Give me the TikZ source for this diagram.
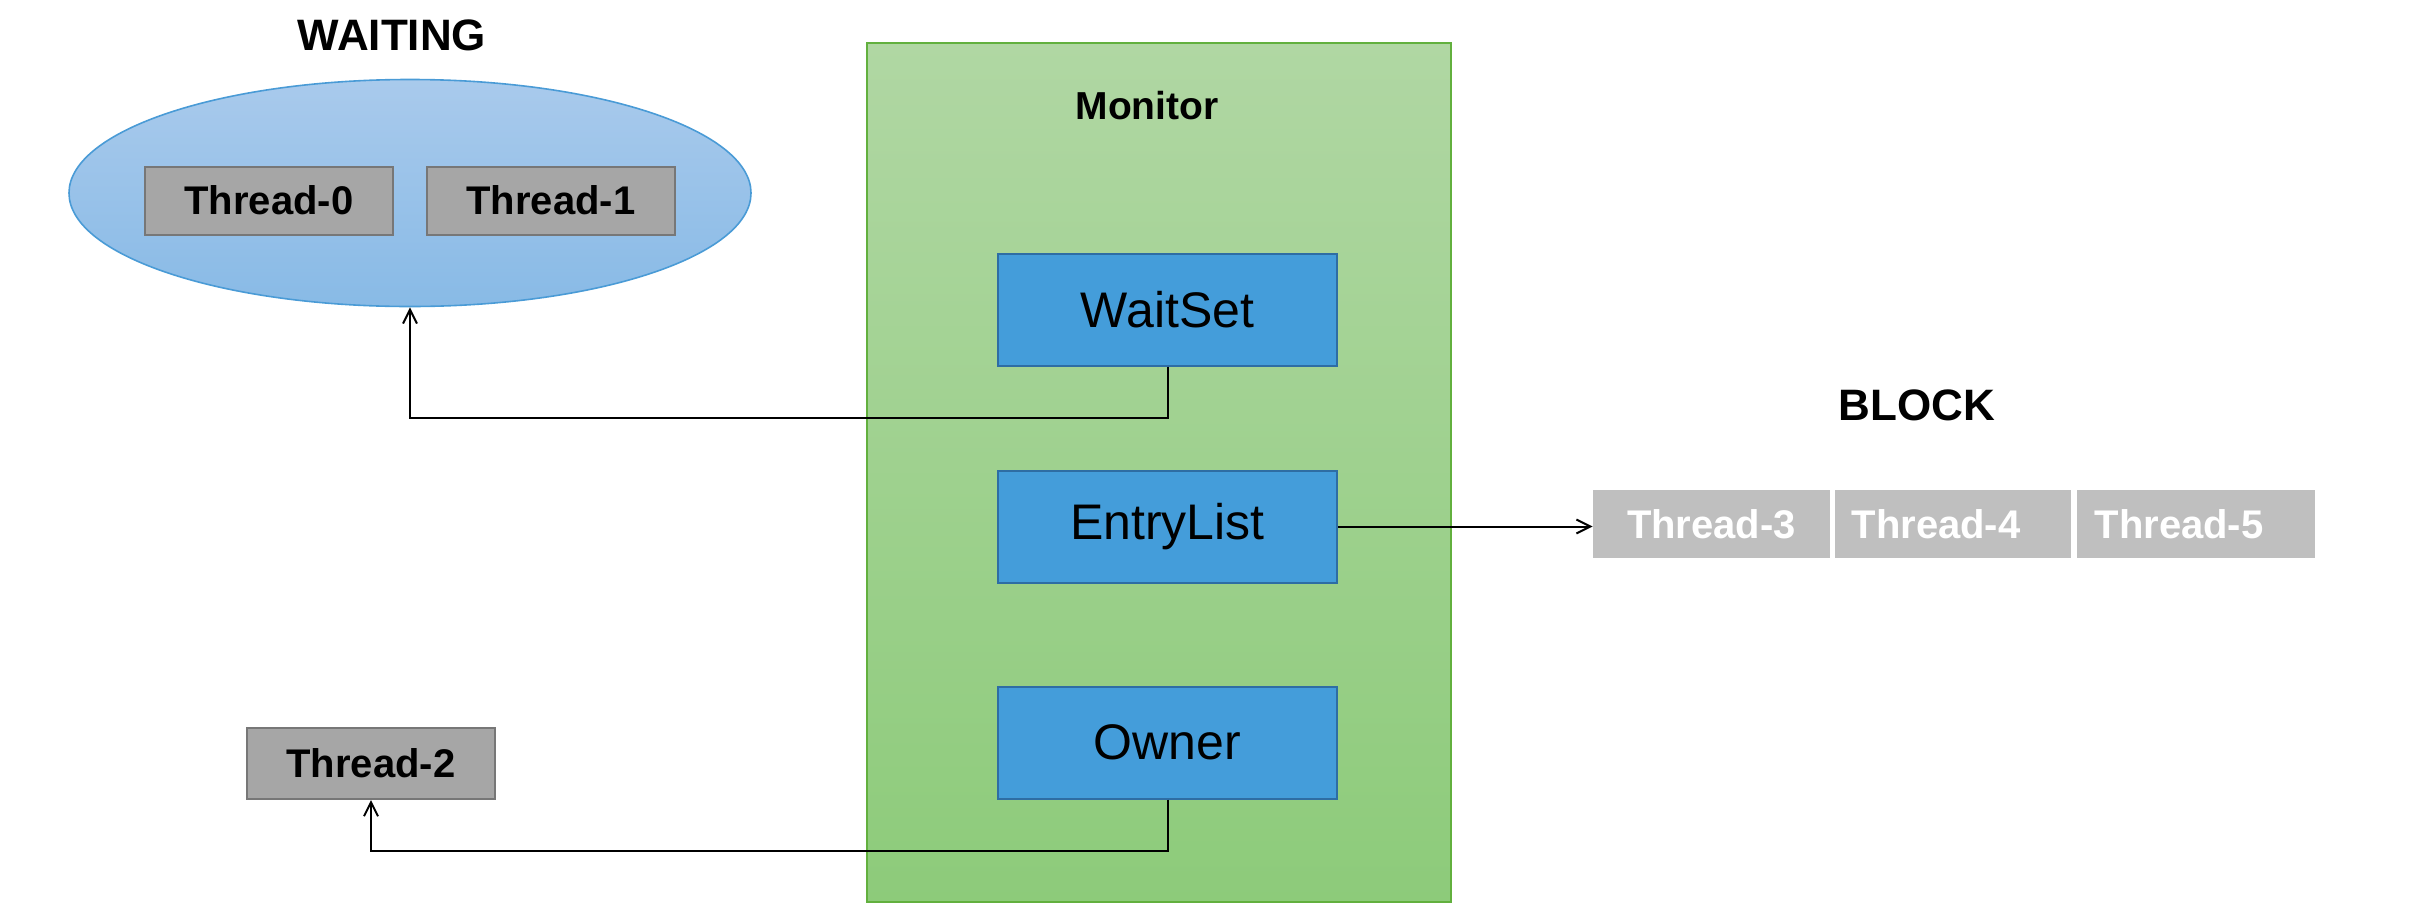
\documentclass[tikz,border=0pt]{standalone}
\usepackage{fontspec}
\setmainfont{Liberation Sans}
\usetikzlibrary{shapes.geometric,arrows.meta}
\definecolor{grnTop}{HTML}{B0D7A3}
\definecolor{grnBot}{HTML}{8DCB7A}
\definecolor{grnLine}{HTML}{62B03E}
\definecolor{bluTop}{HTML}{A9CAEC}
\definecolor{bluBot}{HTML}{88BAE6}
\definecolor{bluLine}{HTML}{4A9BD6}
\definecolor{boxFill}{HTML}{449DDA}
\definecolor{boxLine}{HTML}{2E6DA4}
\definecolor{thrFill}{HTML}{A6A6A6}
\definecolor{thrLine}{HTML}{777777}
\definecolor{blkFill}{HTML}{BFBFBF}
\tikzset{
  thr/.style={draw=thrLine, fill=thrFill, line width=1pt, minimum width=124pt, minimum height=34pt, inner sep=0pt, font=\fontsize{20}{24}\selectfont\bfseries},
  blk/.style={fill=blkFill, minimum height=34pt, inner sep=0pt, text=white, font=\fontsize{20}{24}\selectfont\bfseries},
  mbox/.style={draw=boxLine, fill=boxFill, line width=1pt, minimum width=169.5pt, minimum height=56pt, inner sep=0pt, font=\fontsize{25}{30}\selectfont},
  title/.style={font=\fontsize{22}{26}\selectfont\bfseries},
  conn/.style={line width=1pt, -{Straight Barb[length=7pt,width=7pt]}}
}
\begin{document}
\begin{tikzpicture}[x=0.5pt,y=-0.5pt]
\useasboundingbox (0,0) rectangle (2418,916);
% Monitor
\node[draw=grnLine, line width=1pt, top color=grnTop, bottom color=grnBot, minimum width=292pt, minimum height=429.5pt, inner sep=0pt] (mon) at (1159,472.5) {};
\node[font=\fontsize{19.5}{24}\selectfont\bfseries] (monl) at (1147,106) {Monitor};
\node[mbox] (ws) at (1167.5,309.5) {WaitSet};
\node[mbox] (el) at (1167.5,526.5) {EntryList};
\node[mbox] (ow) at (1167.5,742.5) {Owner};
% Waiting
\node[title] (wt) at (392,35) {WAITING};
\node[ellipse, draw=bluLine, line width=0.8pt, top color=bluTop, bottom color=bluBot, minimum width=341pt, minimum height=113.5pt, inner sep=0pt] (wait) at (410,193) {};
\node[thr] (t0) at (269,200.5) {Thread-0};
\node[thr] (t1) at (551,200.5) {Thread-1};
% Thread-2
\node[thr, minimum height=35.5pt] (t2) at (371,763.5) {Thread-2};
% Block
\node[title] (bt) at (1917,405) {BLOCK};
\node[blk, minimum width=118.5pt] (t3) at (1711.5,524) {Thread-3};
\node[blk, minimum width=118pt] (t4) at (1953,524) {Thread-4\rule{17pt}{0pt}};
\node[blk, minimum width=119pt] (t5) at (2196,524) {Thread-5\rule{17pt}{0pt}};
% connectors
\draw[conn] (ws.south) -- ++(0,51) -| (wait.south);
\draw[conn] (el.east) -- (el.east -| t3.west);
\draw[conn] (ow.south) -- ++(0,51) -| (t2.south);
\end{tikzpicture}
\end{document}
